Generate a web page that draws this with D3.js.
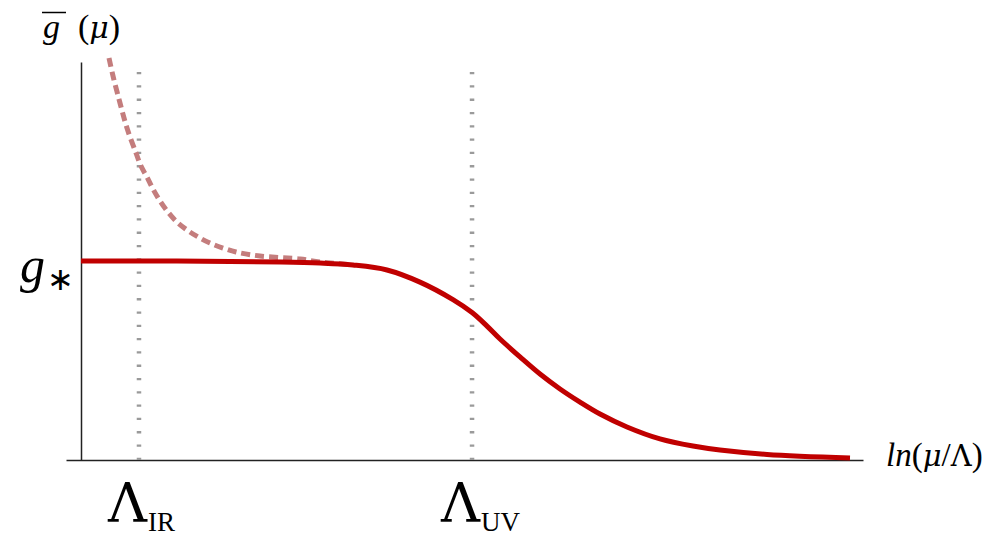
<!DOCTYPE html>
<html>
<head>
<meta charset="utf-8">
<script src="https://cdn.jsdelivr.net/npm/d3@7"></script>
<style>
  html, body { margin: 0; padding: 0; background: #fff; }
  svg { display: block; }
</style>
</head>
<body>
<div id="chart"></div>
<script>
// Running coupling g(μ) against ln(μ/Λ)
// Solid curve: flow from the fixed point g* down to zero past Λ_UV
const solidT = [0, 1.0, 1.938, 2.6, 3.108, 3.537, 3.979, 4.408, 4.837, 5.085, 5.280, 5.449, 5.709, 5.969, 6.229, 6.489, 6.749, 7.100, 7.529, 7.958, 8.309, 8.921, 10];
const solidG = [1.0, 1.0, 0.997, 0.995, 0.990, 0.980, 0.955, 0.894, 0.806, 0.741, 0.673, 0.608, 0.518, 0.432, 0.357, 0.291, 0.231, 0.166, 0.106, 0.070, 0.050, 0.028, 0.010];

// Dashed curve: approach to g* from above in the infrared
const dashedT = [0.364, 0.416, 0.507, 0.598, 0.715, 0.780, 0.858, 0.936, 1.027, 1.131, 1.248, 1.378, 1.521, 1.677, 1.846, 2.016, 2.328, 2.848, 3.108, 3.537];
const dashedG = [2.02, 1.93, 1.794, 1.668, 1.543, 1.477, 1.422, 1.362, 1.302, 1.246, 1.196, 1.156, 1.121, 1.090, 1.065, 1.045, 1.025, 1.010, 0.995, 0.980];

// Scale markers on the ln(μ/Λ) axis
const markerT = [0.754, 5.085];
const markerSub = ["IR", "UV"];
const markerTop = 1.96;

// Fixed-point value
const gStar = 1.0;

const SERIF = "Liberation Serif";
const GREEK = "DejaVu Serif";

const W = 1003, H = 536;
const svg = d3.select("#chart").append("svg").attr("width", W).attr("height", H);

const x = d3.scaleLinear().domain([0, 10]).range([81, 850]);
const y = d3.scaleLinear().domain([0, 2]).range([460, 62]);

// Axes (no ticks, just the spines)
const xAxisScale = d3.scaleLinear().domain([x.invert(66), x.invert(863)]).range([66, 863]);
svg.append("g")
  .attr("transform", `translate(0,${y(0)})`)
  .call(d3.axisBottom(xAxisScale).tickValues([]).tickSizeOuter(0))
  .call(g => g.select(".domain").attr("stroke", "#222").attr("stroke-width", 1.5));

svg.append("g")
  .attr("transform", `translate(${x(0)},0)`)
  .call(d3.axisLeft(y).tickValues([]).tickSizeOuter(0))
  .call(g => g.select(".domain").attr("stroke", "#222").attr("stroke-width", 1.5));

// Dotted vertical markers
svg.selectAll("line.marker")
  .data(markerT)
  .join("line")
  .attr("class", "marker")
  .attr("x1", d => x(d)).attr("x2", d => x(d))
  .attr("y1", y(0)).attr("y2", y(markerTop))
  .attr("stroke", "#9a9a9a")
  .attr("stroke-width", 4.5)
  .attr("stroke-dasharray", "2.3,11");

const line = d3.line()
  .x(d => x(d[0]))
  .y(d => y(d[1]))
  .curve(d3.curveCatmullRom.alpha(0.5));

// Dashed IR branch (under the solid curve)
svg.append("path")
  .datum(dashedT.map((t, i) => [t, dashedG[i]]))
  .attr("d", line)
  .attr("fill", "none")
  .attr("stroke", "#c47d7d")
  .attr("stroke-width", 5)
  .attr("stroke-dasharray", "9,5");

// Solid flow
svg.append("path")
  .datum(solidT.map((t, i) => [t, solidG[i]]))
  .attr("d", line)
  .attr("fill", "none")
  .attr("stroke", "#c00000")
  .attr("stroke-width", 5);

function mathText(px, py, size) {
  return svg.append("text")
    .attr("x", px).attr("y", py)
    .attr("font-family", SERIF)
    .attr("font-size", size)
    .attr("fill", "#000");
}

// y-axis title: ḡ (μ)
const title = mathText(43, 38, 34);
title.append("tspan").attr("font-style", "italic").text("g");
title.append("tspan").attr("dx", 18).text("(");
title.append("tspan").attr("font-family", GREEK).attr("font-size", 30).attr("font-style", "italic").text("μ");
title.append("tspan").text(")");
svg.append("line")
  .attr("x1", 42).attr("x2", 66).attr("y1", 12.5).attr("y2", 12.5)
  .attr("stroke", "#000").attr("stroke-width", 1.5);

// g* label at the fixed point
const gl = mathText(20, y(gStar) + 21, 50);
gl.append("tspan").attr("font-style", "italic").text("g");
gl.append("tspan").attr("font-size", 32).attr("dx", 2).attr("dy", 8).text("∗");

// Λ_IR, Λ_UV labels
markerT.forEach((t, i) => {
  const tx = mathText(x(t) - 31, 522, 60);
  tx.append("tspan").attr("font-family", GREEK).attr("font-size", 54).text("Λ");
  tx.append("tspan").attr("font-size", 27).attr("dx", 1).attr("dy", 9).text(markerSub[i]);
});

// x-axis title
const xt = mathText(886, 466, 33);
xt.append("tspan").attr("font-style", "italic").text("ln");
xt.append("tspan").text("(");
xt.append("tspan").attr("font-family", GREEK).attr("font-size", 29).attr("font-style", "italic").text("μ");
xt.append("tspan").text("/");
xt.append("tspan").attr("font-family", GREEK).attr("font-size", 29).text("Λ");
xt.append("tspan").text(")");
</script>
</body>
</html>
